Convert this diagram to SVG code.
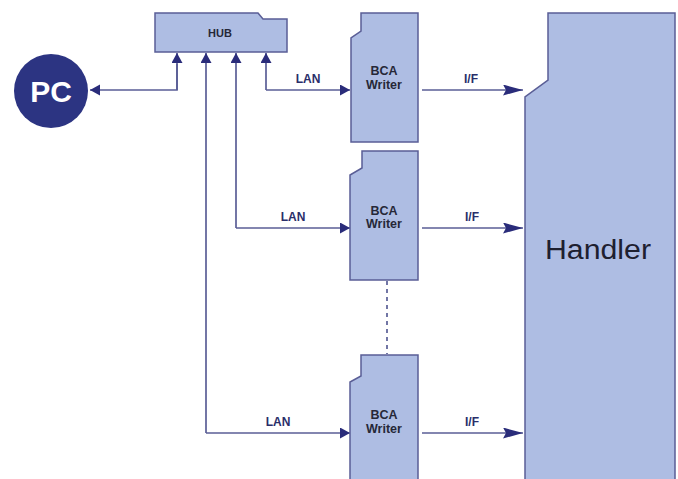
<svg xmlns="http://www.w3.org/2000/svg" width="678" height="479" viewBox="0 0 678 479">
<style>
.box{fill:#aebde3;stroke:#5a5e96;stroke-width:1.5}
.ln{fill:none;stroke:#5a5e96;stroke-width:1.7}
.lbl{font-family:"Liberation Sans",Arial,sans-serif;font-weight:bold;font-size:12px;fill:#2a2e6a;text-anchor:middle}
.bca{font-family:"Liberation Sans",Arial,sans-serif;font-weight:bold;font-size:12.5px;fill:#262838;text-anchor:middle}
</style>
<defs>
<marker id="aS" markerUnits="userSpaceOnUse" markerWidth="12" markerHeight="12" refX="10" refY="5.5" orient="auto">
<path d="M0,0 L10,5.5 L0,11 Z" fill="#2a2c7a"/>
</marker>
<marker id="aL" markerUnits="userSpaceOnUse" markerWidth="21" markerHeight="13" refX="20" refY="5.5" orient="auto">
<path d="M0,0 L20,5.5 L0,11 L3,5.5 Z" fill="#2a2c7a"/>
</marker>
</defs>
<rect width="678" height="479" fill="#ffffff"/>
<g id="connectors">
<path class="ln" d="M177,64 V90 H90" marker-end="url(#aS)"/>
<path class="ln" d="M177,90 V53" marker-end="url(#aS)"/>
<path class="ln" d="M266,90 V53" marker-end="url(#aS)"/>
<path class="ln" d="M266,90 H350" marker-end="url(#aS)"/>
<path class="ln" d="M236,228 V53" marker-end="url(#aS)"/>
<path class="ln" d="M236,228 H350" marker-end="url(#aS)"/>
<path class="ln" d="M206,433 V53" marker-end="url(#aS)"/>
<path class="ln" d="M206,433 H350" marker-end="url(#aS)"/>
<path class="ln" d="M422,90 H523" marker-end="url(#aL)"/>
<path class="ln" d="M422,228 H523" marker-end="url(#aL)"/>
<path class="ln" d="M422,433 H523" marker-end="url(#aL)"/>
<path class="ln" d="M387,281 V354" stroke-dasharray="4,4"/>
<text class="lbl" x="308" y="83">LAN</text>
<text class="lbl" x="293" y="221">LAN</text>
<text class="lbl" x="278" y="426">LAN</text>
<text class="lbl" x="471" y="83">I/F</text>
<text class="lbl" x="472" y="221">I/F</text>
<text class="lbl" x="472" y="426">I/F</text>
</g>
<g id="pc">
<circle cx="51" cy="91" r="37" fill="#2c3482"/>
<text x="51" y="102" font-family="Liberation Sans,Arial,sans-serif" font-weight="bold" font-size="30" fill="#ffffff" text-anchor="middle">PC</text>
</g>
<g id="hub">
<path class="box" d="M155,13 H258 L263,19 H287 V52 H155 Z"/>
<text x="220" y="37" font-family="Liberation Sans,Arial,sans-serif" font-weight="bold" font-size="11" fill="#262838" text-anchor="middle">HUB</text>
</g>
<g id="writer1">
<path class="box" d="M361,13 H418 V142 H351 V38 L361,31 Z"/>
<text class="bca" x="384" y="75">BCA</text>
<text class="bca" x="384" y="89">Writer</text>
</g>
<g id="writer2">
<path class="box" d="M362,151 H418 V280 H350 V175 L362,168 Z"/>
<text class="bca" x="384" y="215">BCA</text>
<text class="bca" x="384" y="228">Writer</text>
</g>
<g id="writer3">
<path class="box" d="M361,355 H418 V485 H350 V382 L361,376 Z"/>
<text class="bca" x="384" y="419">BCA</text>
<text class="bca" x="384" y="433">Writer</text>
</g>
<g id="handler">
<path class="box" d="M548,13 H675 V485 H525 V97 L548,80 Z"/>
<text x="598" y="259" font-family="Liberation Sans,Arial,sans-serif" font-size="27" fill="#1e2030" text-anchor="middle" textLength="106" lengthAdjust="spacingAndGlyphs">Handler</text>
</g>
</svg>
